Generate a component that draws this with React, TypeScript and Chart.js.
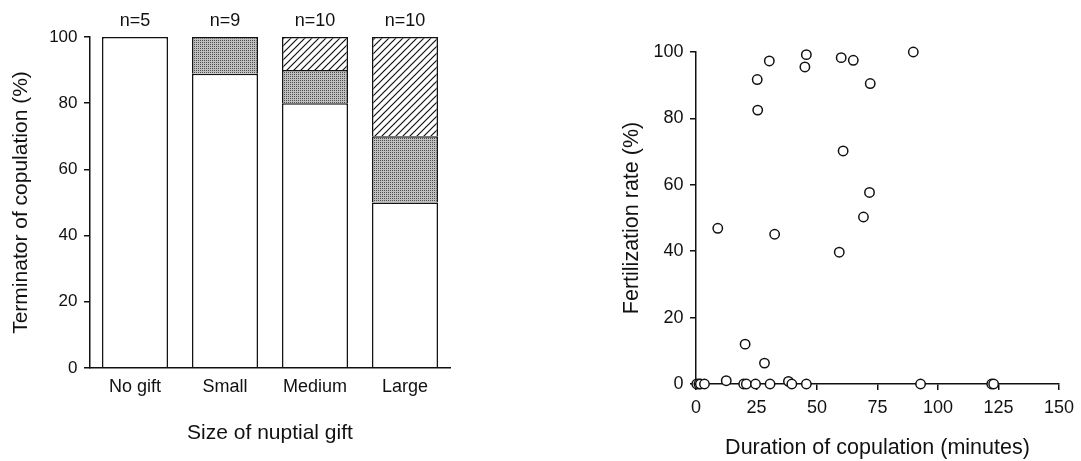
import React, { useEffect, useRef } from "react";
import { Chart, registerables } from "chart.js";

Chart.register(...registerables);

// ---------- Left panel data ----------
const giftCategories = ["No gift", "Small", "Medium", "Large"];
const sampleSizes = ["n=5", "n=9", "n=10", "n=10"];
const terminatorWhite: (number | null)[] = [100, 88.9, 80, 50];
const terminatorDotted: (number | null)[] = [null, 11.1, 10, 20];
const terminatorHatched: (number | null)[] = [null, null, 10, 30];

// ---------- Right panel data ----------
const durationMinutes = [
  0.3, 1.2, 1.8, 3.5, 9.0, 12.5, 19.7, 20.8, 20.3, 24.6, 25.3, 25.5, 28.3, 30.3,
  30.6, 32.5, 38.2, 39.6, 45.0, 45.6, 45.6, 59.2, 60.0, 60.8, 65.0, 69.2, 71.7,
  72.0, 89.8, 92.8, 122.2, 123.0,
];
const fertilizationRate = [
  0, 0, 0, 0, 46.9, 1, 0, 0, 12, 0, 91.7, 82.5, 6.3, 97.3, 0, 45.1, 0.8, 0, 95.5,
  99.2, 0, 39.7, 98.3, 70.2, 97.5, 50.3, 57.7, 90.5, 100, 0, 0, 0,
];

const FONT = "'Liberation Sans', Arial, Helvetica, sans-serif";
const INK = "#111111";
const LW = 1.5;

function makeDots(): CanvasPattern | string {
  const c = document.createElement("canvas");
  c.width = 2;
  c.height = 2;
  const g = c.getContext("2d");
  if (!g) return "#aaa";
  g.fillStyle = "#bfbfbf";
  g.fillRect(0, 0, 2, 2);
  g.fillStyle = "#4e4e4e";
  g.fillRect(0, 0, 1, 1);
  return g.createPattern(c, "repeat") || "#aaa";
}

function makeHatch(): CanvasPattern | string {
  const s = 7;
  const c = document.createElement("canvas");
  c.width = s;
  c.height = s;
  const g = c.getContext("2d");
  if (!g) return "#ddd";
  g.fillStyle = "#ffffff";
  g.fillRect(0, 0, s, s);
  g.strokeStyle = INK;
  g.lineWidth = 1.2;
  g.beginPath();
  g.moveTo(-1, s + 1);
  g.lineTo(s + 1, -1);
  g.moveTo(-1, 1);
  g.lineTo(1, -1);
  g.moveTo(s - 1, s + 1);
  g.lineTo(s + 1, s - 1);
  g.stroke();
  return g.createPattern(c, "repeat") || "#ddd";
}

const nLabelPlugin = {
  id: "nLabels",
  afterDraw(chart: any) {
    const xs = chart.scales.x;
    const ctx = chart.ctx;
    ctx.save();
    ctx.font = `18px ${FONT}`;
    ctx.fillStyle = INK;
    ctx.textAlign = "center";
    ctx.textBaseline = "middle";
    sampleSizes.forEach((t, i) => {
      ctx.fillText(t, xs.getPixelForValue(i), 21);
    });
    ctx.restore();
  },
};

export default function App() {
  const leftRef = useRef<HTMLCanvasElement>(null);
  const rightRef = useRef<HTMLCanvasElement>(null);

  useEffect(() => {
    if (!leftRef.current || !rightRef.current) return;
    const dots = makeDots();
    const hatch = makeHatch();

    const barCommon = {
      borderColor: INK,
      borderWidth: LW,
      borderSkipped: "start",
      categoryPercentage: 1,
      barPercentage: 0.733,
    };

    const tickGrid = {
      display: true,
      drawOnChartArea: false,
      drawTicks: true,
      tickLength: 6,
      color: INK,
      lineWidth: LW,
    };

    const left = new Chart(leftRef.current, {
      type: "bar",
      data: {
        labels: giftCategories,
        datasets: [
          { ...barCommon, data: terminatorWhite, backgroundColor: "#ffffff" } as any,
          { ...barCommon, data: terminatorDotted, backgroundColor: dots } as any,
          { ...barCommon, data: terminatorHatched, backgroundColor: hatch } as any,
        ],
      },
      options: {
        responsive: false,
        maintainAspectRatio: false,
        animation: false,
        layout: { padding: { left: 0, right: 30, top: 37, bottom: 0 } },
        plugins: { legend: { display: false }, tooltip: { enabled: false } },
        scales: {
          x: {
            stacked: true,
            grid: { display: false, drawTicks: false },
            border: { display: true, color: INK, width: LW, z: 1 },
            ticks: { font: { family: FONT, size: 18 }, color: INK, padding: 8 },
            title: {
              display: true,
              text: "Size of nuptial gift",
              font: { family: FONT, size: 21 },
              color: INK,
              padding: { top: 0, bottom: 15.5 },
            },
            afterFit: (s: any) => {
              s.height = 93;
            },
          },
          y: {
            stacked: true,
            min: 0,
            max: 100,
            ticks: { stepSize: 20, font: { family: FONT, size: 17 }, color: INK, padding: 6.5 },
            grid: tickGrid,
            border: { display: true, color: INK, width: LW, z: 1 },
            title: {
              display: true,
              text: "Terminator of copulation (%)",
              font: { family: FONT, size: 21 },
              color: INK,
              padding: { top: 8.5, bottom: 0 },
            },
            afterFit: (s: any) => {
              s.width = 90;
            },
          },
        },
      } as any,
      plugins: [nLabelPlugin],
    });

    const right = new Chart(rightRef.current, {
      type: "scatter",
      data: {
        datasets: [
          {
            data: durationMinutes.map((x, i) => ({ x, y: fertilizationRate[i] })),
            pointRadius: 4.7,
            pointBorderWidth: 1.5,
            borderColor: INK,
            backgroundColor: "#ffffff",
            pointBackgroundColor: "#ffffff",
            pointBorderColor: INK,
            showLine: false,
            clip: false,
          } as any,
        ],
      },
      options: {
        responsive: false,
        maintainAspectRatio: false,
        animation: false,
        layout: { padding: { left: 0, right: 14, top: 52, bottom: 0 } },
        plugins: { legend: { display: false }, tooltip: { enabled: false } },
        scales: {
          x: {
            type: "linear",
            min: 0,
            max: 150,
            ticks: { stepSize: 25, font: { family: FONT, size: 18 }, color: INK, padding: 7 },
            grid: tickGrid,
            border: { display: true, color: INK, width: LW },
            title: {
              display: true,
              text: "Duration of copulation (minutes)",
              font: { family: FONT, size: 21.5 },
              color: INK,
              padding: { top: 0, bottom: 0 },
            },
            afterFit: (s: any) => {
              s.height = 77;
            },
          },
          y: {
            type: "linear",
            min: 0,
            max: 100,
            ticks: { stepSize: 20, font: { family: FONT, size: 18 }, color: INK, padding: 6.5 },
            grid: tickGrid,
            border: { display: true, color: INK, width: LW },
            title: {
              display: true,
              text: "Fertilization rate (%)",
              font: { family: FONT, size: 21.5 },
              color: INK,
              padding: { top: 59, bottom: 0 },
            },
            afterFit: (s: any) => {
              s.width = 136;
            },
          },
        },
      } as any,
    });

    return () => {
      left.destroy();
      right.destroy();
    };
  }, []);

  return (
    <div
      style={{
        position: "absolute",
        left: 0,
        top: 0,
        width: 1081,
        height: 461,
        background: "#ffffff",
        overflow: "hidden",
      }}
    >
      <canvas
        ref={leftRef}
        width={480}
        height={461}
        style={{ position: "absolute", left: 0, top: 0 }}
      />
      <canvas
        ref={rightRef}
        width={521}
        height={461}
        style={{ position: "absolute", left: 560, top: 0 }}
      />
    </div>
  );
}
